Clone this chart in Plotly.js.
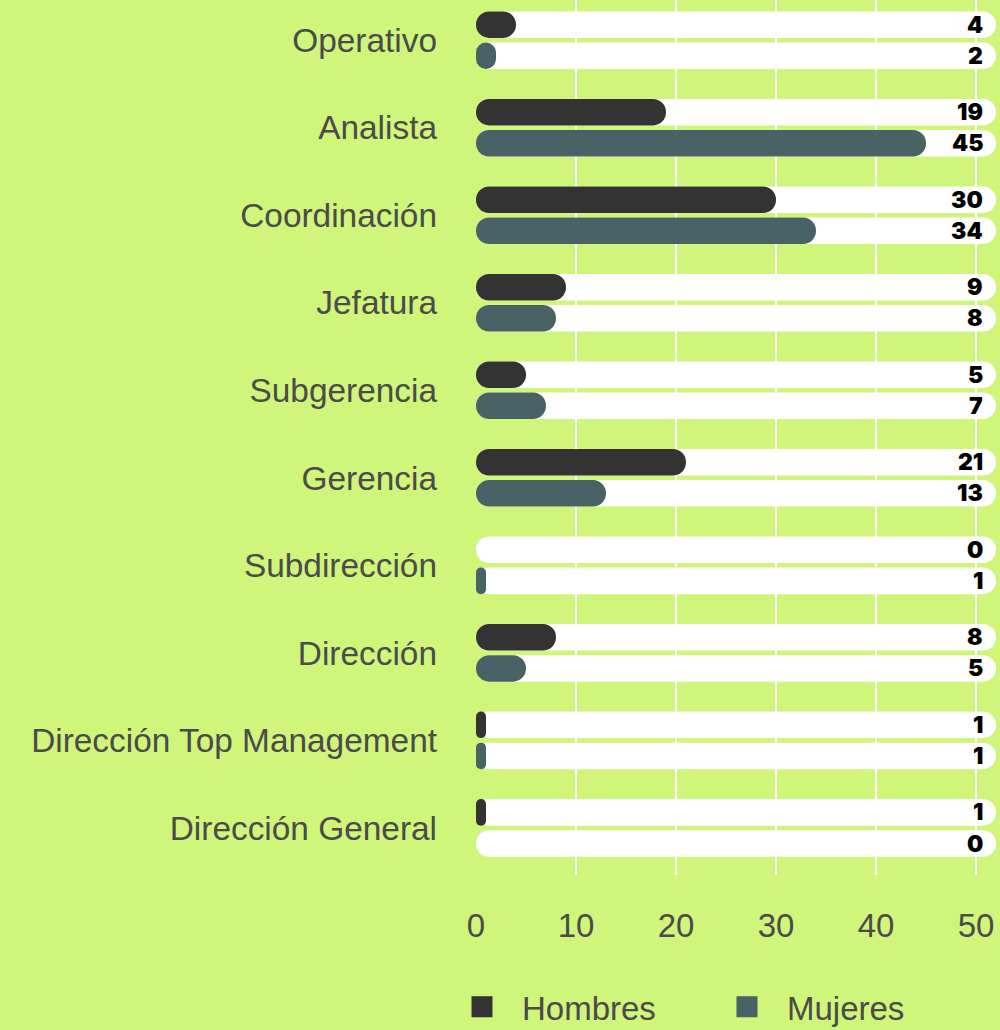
<!DOCTYPE html>
<html><head><meta charset="utf-8">
<script src="https://cdn.plot.ly/plotly-3.0.1.min.js"></script>
<style>html,body{margin:0;padding:0;background:#cff57a;} #chart{width:1000px;height:1030px;}</style>
</head><body><div id="chart"></div>
<script>
const categories = ["Operativo","Analista","Coordinación","Jefatura","Subgerencia","Gerencia","Subdirección","Dirección","Dirección Top Management","Dirección General"];
const hombres = [4,19,30,9,5,21,0,8,1,1];
const mujeres = [2,45,34,8,7,13,1,5,1,0];
const seriesNames = ["Hombres","Mujeres"];
const xTickVals = [0,10,20,30,40,50];
const gridVals = [10,20,30,40,50];
const trackMax = 52;

const BG = '#cff57a';
const TXT = '#4b4b4b';
const COLORS = ['#333333','#496265'];
const BAR_W = 0.303;
const OFFSETS = [-0.329, 0.026];
const FONT = '"Liberation Sans", Arial, Helvetica, sans-serif';

// rounded bar: giving an explicit base makes Plotly round both ends
function pill(values, color, offset, name) {
  return {
    type:'bar', orientation:'h', y:categories, x:values, base:values.map(() => 0),
    offset:offset, width:BAR_W,
    marker:{color:color, cornerradius:'50%', line:{width:0}},
    hoverinfo:'skip', showlegend:false, name:name
  };
}

const seriesValues = [hombres, mujeres];
let traces = [];
// white tracks
seriesValues.forEach((vals, s) => {
  traces.push(pill(vals.map(() => trackMax), '#ffffff', OFFSETS[s], 'track'));
});
// value bars
seriesValues.forEach((vals, s) => {
  traces.push(pill(vals, COLORS[s], OFFSETS[s], seriesNames[s]));
});
// legend entries
seriesNames.forEach((n, s) => {
  traces.push({type:'scatter', mode:'markers', x:[null], y:[null], xaxis:'x2', name:n,
    marker:{symbol:'square', size:16, color:COLORS[s], line:{width:5, color:COLORS[s]}},
    showlegend:true, hoverinfo:'skip'});
});

const annotations = [];
seriesValues.forEach((vals, s) => {
  vals.forEach((v, i) => {
    annotations.push({x:trackMax, y:categories[i], xref:'x', yref:'y', text:String(v),
      xanchor:'right', yanchor:'middle', xshift:-11, yshift: s === 0 ? 15.6 : -15.6,
      showarrow:false, font:{family:'Inter, "Liberation Sans", sans-serif', size:23, weight:900, color:'#000000'}});
  });
});

const xr = [-0.4, 52.4];
const layout = {
  width:1000, height:1030,
  paper_bgcolor:BG, plot_bgcolor:BG,
  margin:{l:472, r:0, t:0, b:155, pad:0},
  barmode:'overlay',
  font:{family:FONT, color:TXT, size:33},
  xaxis:{range:xr, tickvals:xTickVals, showgrid:false, zeroline:false, showline:false, ticks:'',
    ticklabelstandoff:28, tickfont:{family:FONT, size:33, color:TXT}, fixedrange:true},
  xaxis2:{range:xr, overlaying:'x', anchor:'y', tickvals:gridVals, showgrid:true, gridcolor:'#ffffff', gridwidth:2,
    showticklabels:false, zeroline:false, showline:false, ticks:'', fixedrange:true},
  yaxis:{type:'category', categoryorder:'array', categoryarray:categories, range:[9.538, -0.459],
    showgrid:false, zeroline:false, showline:false, ticks:'', ticklabelstandoff:34,
    tickfont:{family:FONT, size:33.4, color:TXT}, fixedrange:true},
  showlegend:true,
  legend:{orientation:'h', xref:'container', yref:'container', x:0.442, xanchor:'left', y:0.0225, yanchor:'middle',
    font:{family:FONT, size:33, color:TXT}, itemsizing:'trace', itemwidth:70, entrywidth:180, bgcolor:'rgba(0,0,0,0)'},
  annotations:annotations
};

Plotly.newPlot('chart', traces, layout, {displayModeBar:false, staticPlot:true});
</script></body></html>
